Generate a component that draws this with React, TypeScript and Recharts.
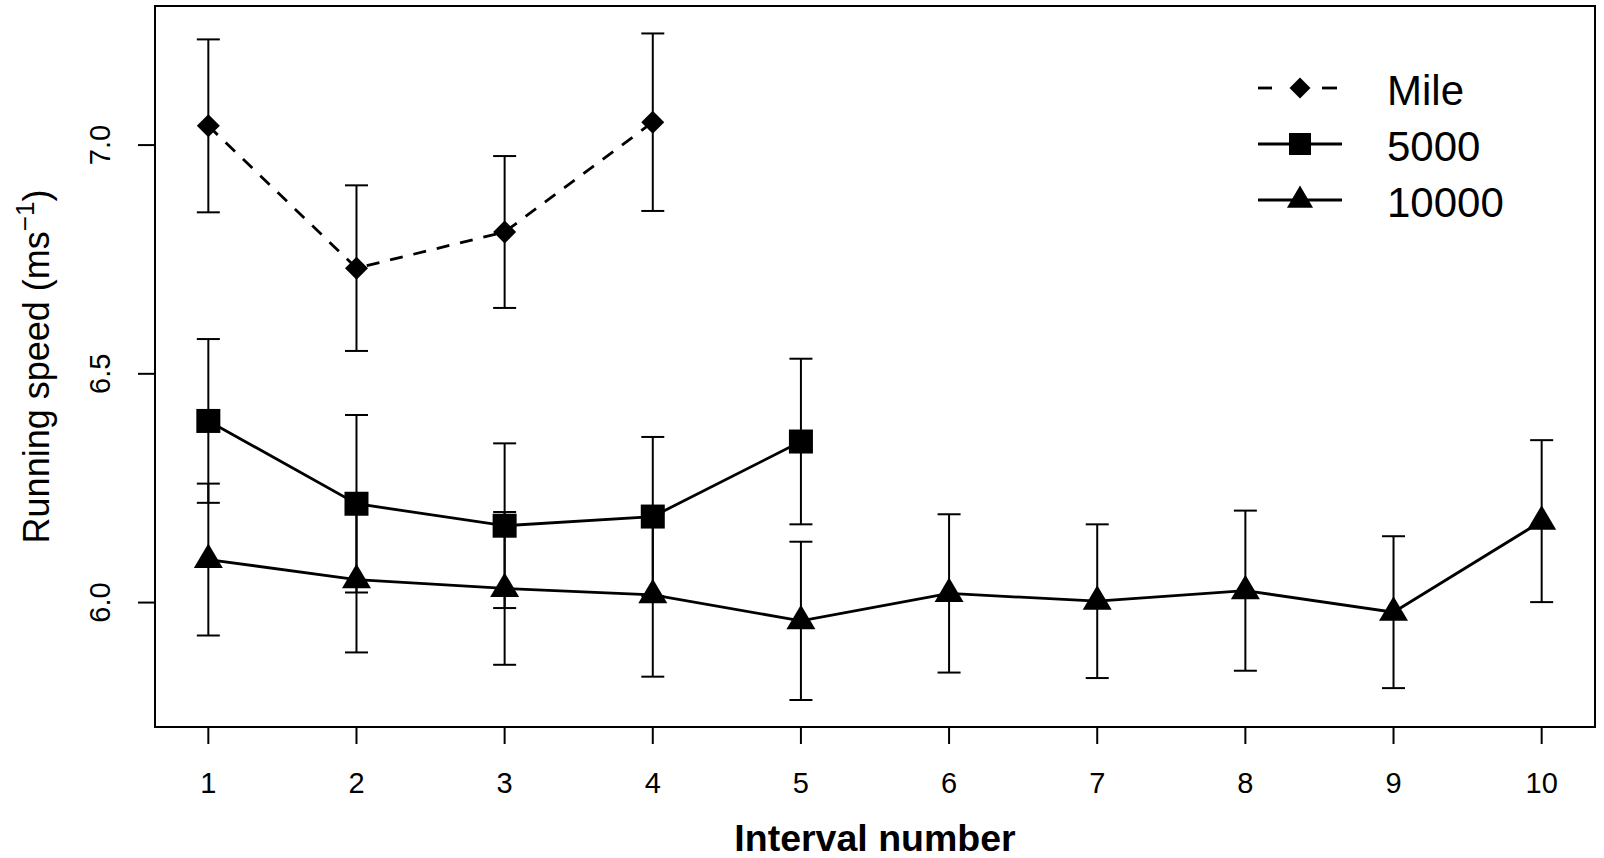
import React from 'react';
import { ComposedChart, Line, XAxis, YAxis, ErrorBar, ReferenceArea, Legend } from 'recharts';

// interval numbers and mean running speed (m/s) with error bar half-lengths
const intervals = [1, 2, 3, 4, 5, 6, 7, 8, 9, 10];
const mileSpeed = [7.042, 6.731, 6.81, 7.05];
const mileErr = [0.189, 0.181, 0.166, 0.194];
const speed5000 = [6.397, 6.216, 6.168, 6.188, 6.352];
const err5000 = [0.179, 0.194, 0.18, 0.174, 0.181];
const speed10000 = [6.094, 6.05, 6.031, 6.017, 5.96, 6.02, 6.003, 6.026, 5.979, 6.178];
const err10000 = [0.166, 0.159, 0.167, 0.179, 0.173, 0.173, 0.168, 0.175, 0.166, 0.177];
const yTicks = [6.0, 6.5, 7.0];
const seriesNames = ['Mile', '5000', '10000'];

const X_DOMAIN: [number, number] = [0.64, 10.36];
const Y_DOMAIN: [number, number] = [5.728, 7.304];
const FONT = '"Liberation Sans", Arial, sans-serif';

const toRows = (speeds: number[], errs: number[]) =>
  speeds.map((v, i) => ({ interval: intervals[i], speed: v, err: errs[i] }));

const mileData = toRows(mileSpeed, mileErr);
const data5000 = toRows(speed5000, err5000);
const data10000 = toRows(speed10000, err10000);

const Diamond = ({ cx, cy, r = 11.5 }: any) => (
  <polygon points={`${cx},${cy - r} ${cx + r},${cy} ${cx},${cy + r} ${cx - r},${cy}`} fill="#000" />
);
const Square = ({ cx, cy, s = 12 }: any) => (
  <rect x={cx - s} y={cy - s} width={2 * s} height={2 * s} fill="#000" />
);
const Triangle = ({ cx, cy, k = 1 }: any) => (
  <polygon
    points={`${cx},${cy - 16 * k} ${cx + 14.5 * k},${cy + 8.5 * k} ${cx - 14.5 * k},${cy + 8.5 * k}`}
    fill="#000"
  />
);

const markers = [Diamond, Square, Triangle];

const XTick = ({ x, y, payload }: any) => (
  <text x={x} y={y + 49} textAnchor="middle" fontSize={29} fontFamily={FONT} fill="#000">
    {payload.value}
  </text>
);

const YTick = ({ x, y, payload }: any) => (
  <text
    x={x}
    y={y}
    transform={`rotate(-90, ${x}, ${y})`}
    textAnchor="middle"
    fontSize={29}
    fontFamily={FONT}
    fill="#000"
  >
    {Number(payload.value).toFixed(1)}
  </text>
);

const YTitle = ({ viewBox }: any) => {
  const x = viewBox.x + 49;
  const y = viewBox.y + viewBox.height / 2;
  return (
    <text
      x={x}
      y={y}
      transform={`rotate(-90, ${x}, ${y})`}
      textAnchor="middle"
      fontSize={36}
      fontFamily={FONT}
      fill="#000"
    >
      <tspan>Running speed (ms</tspan>
      <tspan dy={-15} fontSize={26}>−1</tspan>
      <tspan dy={15}>)</tspan>
    </text>
  );
};

const XTitle = ({ viewBox }: any) => (
  <text
    x={viewBox.x + viewBox.width / 2}
    y={viewBox.y + 124}
    textAnchor="middle"
    fontSize={37.5}
    fontWeight="bold"
    fontFamily={FONT}
    fill="#000"
  >
    Interval number
  </text>
);

const renderLegend = () => (
  <svg width={300} height={180}>
    {seriesNames.map((name, i) => {
      const y = 33 + i * 56;
      const Marker = markers[i];
      return (
        <g key={name}>
          {i === 0 ? (
            <>
              <line x1={18} x2={32} y1={y} y2={y} stroke="#000" strokeWidth={2.8} />
              <line x1={82} x2={97} y1={y} y2={y} stroke="#000" strokeWidth={2.8} />
            </>
          ) : (
            <line x1={18} x2={102} y1={y} y2={y} stroke="#000" strokeWidth={2.8} />
          )}
          {i === 0 && <Marker cx={60} cy={y} r={10.5} />}
          {i === 1 && <Marker cx={60} cy={y} s={11} />}
          {i === 2 && <Marker cx={60} cy={y} k={0.9} />}
          <text x={147} y={y + 17} fontSize={42} fontFamily={FONT} fill="#000">
            {name}
          </text>
        </g>
      );
    })}
  </svg>
);

export default function App() {
  return (
    <div style={{ position: 'absolute', left: 0, top: 0, width: 1604, height: 858, background: '#fff' }}>
      <ComposedChart width={1604} height={858} margin={{ top: 6, right: 9, bottom: 0, left: 0 }}>
        <XAxis
          dataKey="interval"
          type="number"
          domain={X_DOMAIN}
          ticks={intervals}
          interval={0}
          allowDataOverflow
          height={131}
          axisLine={false}
          tickLine={{ stroke: '#000', strokeWidth: 2 }}
          tickSize={17}
          tickMargin={0}
          tick={<XTick />}
          label={{ content: XTitle }}
        />
        <YAxis
          type="number"
          domain={Y_DOMAIN}
          ticks={yTicks}
          interval={0}
          allowDataOverflow
          width={155}
          axisLine={false}
          tickLine={{ stroke: '#000', strokeWidth: 2 }}
          tickSize={17}
          tickMargin={28}
          tick={<YTick />}
          label={{ content: YTitle }}
        />
        <ReferenceArea
          x1={X_DOMAIN[0]}
          x2={X_DOMAIN[1]}
          y1={Y_DOMAIN[0]}
          y2={Y_DOMAIN[1]}
          fill="none"
          stroke="#000"
          strokeWidth={2}
          ifOverflow="visible"
        />
        <Line
          data={data10000}
          dataKey="speed"
          type="linear"
          stroke="#000"
          strokeWidth={2.8}
          isAnimationActive={false}
          dot={(p: any) => <Triangle key={`t-${p.index}`} cx={p.cx} cy={p.cy} />}
          activeDot={false}
        >
          <ErrorBar dataKey="err" direction="y" width={11.5} stroke="#000" strokeWidth={2} isAnimationActive={false} />
        </Line>
        <Line
          data={data5000}
          dataKey="speed"
          type="linear"
          stroke="#000"
          strokeWidth={2.8}
          isAnimationActive={false}
          dot={(p: any) => <Square key={`s-${p.index}`} cx={p.cx} cy={p.cy} />}
          activeDot={false}
        >
          <ErrorBar dataKey="err" direction="y" width={11.5} stroke="#000" strokeWidth={2} isAnimationActive={false} />
        </Line>
        <Line
          data={mileData}
          dataKey="speed"
          type="linear"
          stroke="#000"
          strokeWidth={2.8}
          strokeDasharray="13 11"
          isAnimationActive={false}
          dot={(p: any) => <Diamond key={`d-${p.index}`} cx={p.cx} cy={p.cy} />}
          activeDot={false}
        >
          <ErrorBar dataKey="err" direction="y" width={11.5} stroke="#000" strokeWidth={2} isAnimationActive={false} />
        </Line>
        <Legend
          layout="vertical"
          align="center"
          verticalAlign="middle"
          wrapperStyle={{ left: 1240, top: 55, width: 300, height: 180 }}
          content={renderLegend}
        />
      </ComposedChart>
    </div>
  );
}
